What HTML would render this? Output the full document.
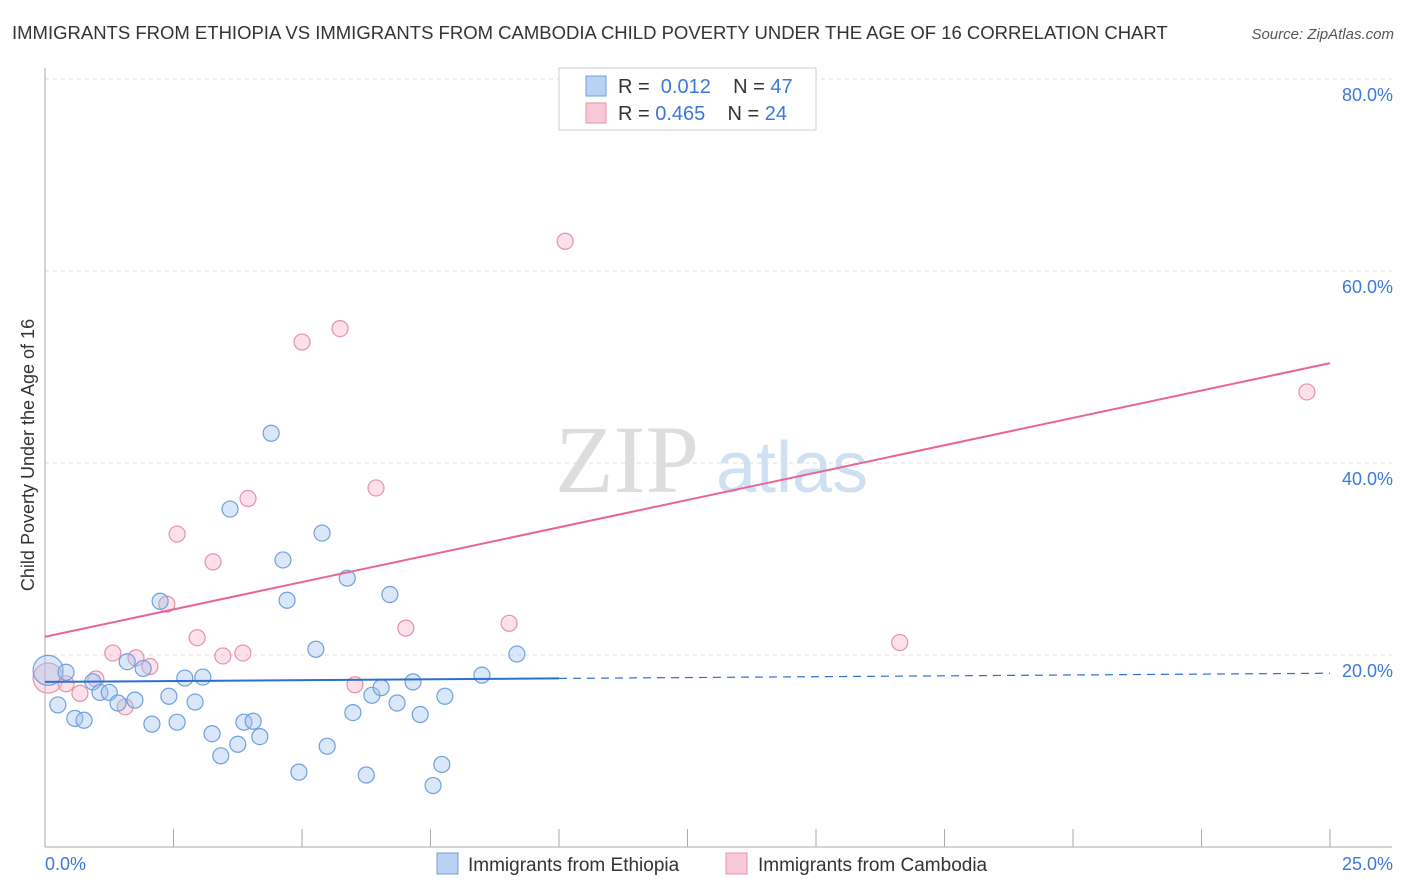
<!DOCTYPE html>
<html><head><meta charset="utf-8"><style>
body{margin:0;background:#fff;font-family:"Liberation Sans",sans-serif;}
svg{display:block}
</style></head><body>
<svg id="c" width="1406" height="892">
<text x="12" y="39" font-size="18.5" fill="#333">IMMIGRANTS FROM ETHIOPIA VS IMMIGRANTS FROM CAMBODIA CHILD POVERTY UNDER THE AGE OF 16 CORRELATION CHART</text>
<text x="1394" y="39" font-size="15" fill="#555" font-style="italic" text-anchor="end">Source: ZipAtlas.com</text>
<text transform="translate(34,455) rotate(-90)" font-size="18" fill="#333" text-anchor="middle">Child Poverty Under the Age of 16</text>
<text x="555" y="492" font-size="96" fill="#ddd" font-family="Liberation Serif,serif">ZIP</text>
<text x="716" y="492" font-size="72" fill="#cfe0f3">atlas</text>
<g id="grid"></g><g id="pts"></g><g id="lines"></g>
<g>
<rect x="559" y="68" width="257" height="62" fill="#fff" stroke="#ccc"/>
<rect x="586" y="76" width="20" height="20" fill="#b8d2f4" stroke="#6fa0de"/>
<rect x="586" y="103" width="20" height="20" fill="#f8c9d8" stroke="#e890aa"/>
<text x="618" y="93" font-size="20" fill="#333">R = <tspan fill="#3c78d8">&#160;0.012</tspan>&#160;&#160;&#160;&#160;N = <tspan fill="#3c78d8">47</tspan></text>
<text x="618" y="120" font-size="20" fill="#333">R = <tspan fill="#3c78d8">0.465</tspan>&#160;&#160;&#160;&#160;N = <tspan fill="#3c78d8">24</tspan></text>
</g>
<g>
<rect x="437" y="853" width="21" height="21" fill="#b8d2f4" stroke="#6fa0de"/>
<text x="468" y="871" font-size="19" fill="#333">Immigrants from Ethiopia</text>
<rect x="726" y="853" width="21" height="21" fill="#f8c9d8" stroke="#e890aa"/>
<text x="758" y="871" font-size="19" fill="#333">Immigrants from Cambodia</text>
</g>
</svg>
<script>
const xTicks=[0,2.5,5,7.5,10,12.5,15,17.5,20,22.5,25];
const yTicks=[20,40,60,80];
const yTickLabels=["20.0%","40.0%","60.0%","80.0%"];
const xEdgeLabels=["0.0%","25.0%"];
const ethX=[0.06,0.41,0.25,0.58,0.76,0.93,1.07,1.25,1.42,1.60,1.75,1.91,2.08,2.24,2.41,2.57,2.72,2.92,3.07,3.25,3.42,3.60,3.75,3.87,4.05,4.18,4.40,4.63,4.71,4.94,5.27,5.39,5.49,5.88,5.99,6.25,6.36,6.54,6.71,6.85,7.16,7.30,7.55,7.72,7.78,8.50,9.18];
const ethY=[18.4,18.2,14.8,13.4,13.2,17.2,16.1,16.1,15.0,19.3,15.3,18.6,12.8,25.6,15.7,13.0,17.6,15.1,17.7,11.8,9.5,35.2,10.7,13.0,13.1,11.5,43.1,29.9,25.7,7.8,20.6,32.7,10.5,28.0,14.0,7.5,15.8,16.6,26.3,15.0,17.2,13.8,6.4,8.6,15.7,17.9,20.1];
const camX=[0.06,0.41,0.68,0.99,1.32,1.56,1.77,2.04,2.37,2.57,2.96,3.27,3.46,3.85,3.95,5.00,5.74,6.03,6.44,7.02,9.03,10.12,16.63,24.55];
const camY=[17.6,17.0,16.0,17.5,20.2,14.6,19.7,18.8,25.3,32.6,21.8,29.7,19.9,20.2,36.3,52.6,54.0,16.9,37.4,22.8,23.3,63.1,21.3,47.4];
const ethTrend=[17.2,18.1]; // at x=0, x=25
const camTrend=[21.9,50.4];
const ethSolidEnd=10;
const NS="http://www.w3.org/2000/svg";
const X=v=>45+v/25*1285, Y=v=>847-v/20*192;
function mk(p,t,a){const e=document.createElementNS(NS,t);for(const k in a)e.setAttribute(k,a[k]);p.appendChild(e);return e;}
const grid=document.getElementById('grid'),pts=document.getElementById('pts'),lines=document.getElementById('lines');
yTicks.forEach((t,i)=>{
 const l=mk(grid,'line',{x1:45,x2:1392,y1:Y(t),y2:Y(t),stroke:'#ddd','stroke-dasharray':'4,4'});
 
 
 const tx=mk(grid,'text',{x:1393,y:Y(t)+22,'font-size':18,fill:'#3c78d8','text-anchor':'end'});tx.textContent=yTickLabels[i];
 
 
});
mk(grid,'line',{x1:45,x2:45,y1:68,y2:847,stroke:'#aaa'});
mk(grid,'line',{x1:45,x2:1392,y1:847,y2:847,stroke:'#aaa'});
xTicks.forEach(t=>{const l=mk(grid,'line',{x1:X(t),x2:X(t),y1:829,y2:847,stroke:'#aaa'});
 
 });
const xl0=mk(grid,'text',{x:45,y:870,'font-size':18,fill:'#3c78d8'});xl0.textContent=xEdgeLabels[0];


const xl1=mk(grid,'text',{x:1393,y:870,'font-size':18,fill:'#3c78d8','text-anchor':'end'});xl1.textContent=xEdgeLabels[1];


function dots(xs,ys,fill,stroke,name){xs.forEach((x,i)=>{const c=mk(pts,'circle',{cx:X(x),cy:Y(ys[i]),r:i===0?15:8,fill:fill,stroke:stroke,'stroke-width':1.2});
 
 });}
dots(camX,camY,'rgba(245,170,195,0.35)','#e890aa','point-cambodia');
dots(ethX,ethY,'rgba(160,196,240,0.4)','#6fa0de','point-ethiopia');
const ty=(tr,x)=>tr[0]+(tr[1]-tr[0])*x/25;
const l1=mk(lines,'line',{x1:X(0),y1:Y(ty(ethTrend,0)),x2:X(ethSolidEnd),y2:Y(ty(ethTrend,ethSolidEnd)),stroke:'#2d6fd0','stroke-width':2});


const l2=mk(lines,'line',{x1:X(ethSolidEnd),y1:Y(ty(ethTrend,ethSolidEnd)),x2:X(25),y2:Y(ty(ethTrend,25)),stroke:'#2d6fd0','stroke-width':1.2,'stroke-dasharray':'8,6'});


const l3=mk(lines,'line',{x1:X(0),y1:Y(ty(camTrend,0)),x2:X(25),y2:Y(ty(camTrend,25)),stroke:'#e8649a','stroke-width':2});


</script>
</body></html>
